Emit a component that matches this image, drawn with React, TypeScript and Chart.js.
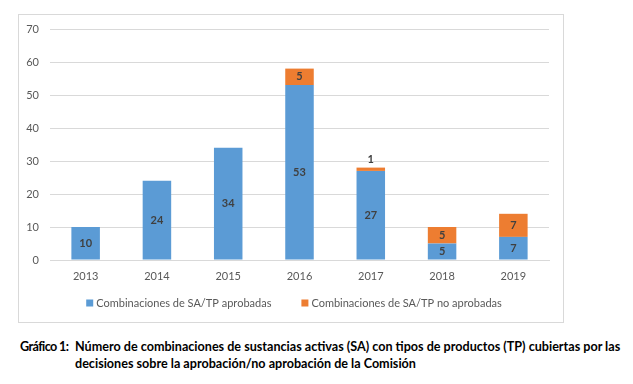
import React, { useEffect, useRef } from "react";
import { Chart, registerables } from "chart.js";

Chart.register(...registerables);

const years = ["2013", "2014", "2015", "2016", "2017", "2018", "2019"];
const approved = [10, 24, 34, 53, 27, 5, 7];
const notApproved = [0, 0, 0, 5, 1, 5, 7];
const seriesNames = [
  "Combinaciones de SA/TP aprobadas",
  "Combinaciones de SA/TP no aprobadas",
];
const captionLabel = "Gráfico 1:";
const captionText =
  "Número de combinaciones de sustancias activas (SA) con tipos de productos (TP) cubiertas por las decisiones sobre la aprobación/no aprobación de la Comisión";

const FONT = "Lato, 'Liberation Sans', sans-serif";

const barLabels = {
  id: "barLabels",
  afterDatasetsDraw(chart: any) {
    const ctx = chart.ctx;
    ctx.save();
    ctx.font = `bold 11px ${FONT}`;
    ctx.fillStyle = "#404040";
    ctx.textAlign = "center";
    ctx.textBaseline = "middle";
    chart.data.datasets.forEach((ds: any, di: number) => {
      const meta = chart.getDatasetMeta(di);
      meta.data.forEach((el: any, i: number) => {
        const v = ds.data[i];
        if (!v) return;
        const { x, y, base } = el.getProps(["x", "y", "base"], true);
        const h = base - y;
        const ty = h < 10 ? y - 8 : (y + base) / 2;
        ctx.fillText(String(v), x, ty);
      });
    });
    ctx.restore();
  },
};

// Legend drawn below the x axis, Excel style (small square, narrow gap, wide spacing)
const bottomLegend = {
  id: "bottomLegend",
  afterDraw(chart: any) {
    const ctx = chart.ctx;
    const box = 7;
    const gap = 3;
    const spacing = 30;
    ctx.save();
    ctx.font = `11px ${FONT}`;
    ctx.textBaseline = "middle";
    ctx.textAlign = "left";
    const items = chart.data.datasets.map((ds: any) => ({
      text: ds.label,
      color: ds.backgroundColor,
      w: box + gap + ctx.measureText(ds.label).width,
    }));
    const total = items.reduce((a: number, it: any) => a + it.w, 0) + spacing * (items.length - 1);
    let x = chart.width / 2 + 3 - total / 2;
    const y = chart.chartArea.bottom + 43;
    items.forEach((it: any) => {
      ctx.fillStyle = it.color;
      ctx.fillRect(x, y - box / 2, box, box);
      ctx.fillStyle = "#595959";
      ctx.fillText(it.text, x + box + gap, y);
      x += it.w + spacing;
    });
    ctx.restore();
  },
};

export default function App() {
  const ref = useRef<HTMLCanvasElement>(null);
  useEffect(() => {
    document.body.style.margin = "0";
    const chart = new Chart(ref.current!, {
      type: "bar",
      data: {
        labels: years,
        datasets: [
          {
            label: seriesNames[0],
            data: approved,
            backgroundColor: "#5B9BD5",
            categoryPercentage: 0.8,
            barPercentage: 0.5,
          },
          {
            label: seriesNames[1],
            data: notApproved,
            backgroundColor: "#ED7D31",
            categoryPercentage: 0.8,
            barPercentage: 0.5,
          },
        ],
      },
      options: {
        animation: false,
        responsive: false,
        maintainAspectRatio: false,
        layout: { padding: { top: 15, right: 15, left: 0, bottom: 29.8 } },
        scales: {
          x: {
            stacked: true,
            grid: { display: false, drawTicks: false },
            border: { color: "#d9d9d9" },
            ticks: {
              color: "#595959",
              font: { family: FONT, size: 11 },
              padding: 10,
            },
          },
          y: {
            stacked: true,
            min: 0,
            max: 70,
            afterFit: (s: any) => {
              s.width = 32;
              s.paddingTop = 0;
            },
            grid: { color: "#d9d9d9", drawTicks: false, lineWidth: 1 },
            border: { display: false },
            ticks: {
              stepSize: 10,
              color: "#595959",
              font: { family: FONT, size: 11 },
              padding: 11,
            },
          },
        },
        plugins: {
          legend: { display: false },
          tooltip: { enabled: false },
        },
      },
      plugins: [barLabels, bottomLegend],
    });
    return () => chart.destroy();
  }, []);

  return (
    <div style={{ position: "relative", width: 633, height: 384, background: "#fff", fontFamily: FONT }}>
      <div style={{ position: "absolute", left: 18, top: 14, width: 546, height: 309 }}>
        <canvas ref={ref} width={546} height={309} style={{ width: 546, height: 309 }} />
      </div>
      <div
        style={{
          position: "absolute",
          left: 18,
          top: 14,
          width: 546,
          height: 309,
          border: "1px solid #d9d9d9",
          boxSizing: "border-box",
          pointerEvents: "none",
        }}
      />
      <div
        style={{
          position: "absolute",
          left: 20,
          top: 338,
          width: 612,
          display: "flex",
          fontWeight: 700,
          fontSize: 12.6,
          lineHeight: "17px",
          color: "#000",
        }}
      >
        <div style={{ width: 55, flex: "none", whiteSpace: "nowrap", letterSpacing: "-0.6px" }}>{captionLabel}</div>
        <div style={{ flex: 1 }}>{captionText}</div>
      </div>
    </div>
  );
}
